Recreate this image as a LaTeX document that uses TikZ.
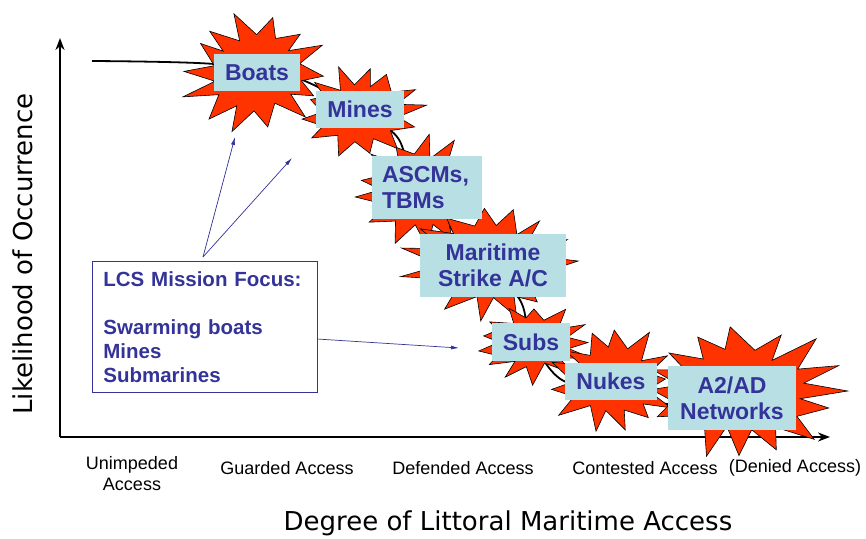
\documentclass[tikz,border=0pt]{standalone}
\usepackage{fontspec}
\setmainfont{Liberation Sans}
\newfontfamily\axisfont{DejaVu Sans}
\usetikzlibrary{arrows.meta}
\definecolor{burstred}{RGB}{255,51,0}
\definecolor{boxblue}{RGB}{184,223,227}
\definecolor{navy}{RGB}{51,51,153}
\tikzset{
  burststyle/.style={fill=burstred, draw=black, line width=0.6pt, line join=miter},
  lbl/.style={fill=boxblue, text=navy, font=\bfseries\fontsize{23}{26}\selectfont,
    inner sep=0pt, align=center},
  axisline/.style={line width=2.6pt, -{Stealth[length=12pt,width=9pt]}},
  pointer/.style={navy, line width=0.7pt, -{Latex[length=8pt,width=4pt]}},
  tick/.style={font=\fontsize{18}{21}\selectfont, align=center},
  title/.style={font=\axisfont\fontsize{26}{30}\selectfont}
}
% #1 name, #2 cx, #3 cy, #4 rx, #5 ry, #6 seed, #7 points
\newcommand\burstshape[7]{%
  \pgfmathsetseed{#6}%
  \coordinate (#1) at (#2,#3);
  \draw[burststyle] ({#2+0.56*#4*cos(-180/#7)},{#3+0.56*#5*sin(-180/#7)})
    \foreach \k [evaluate=\k as \ao using (\k+0.25*rand)*360/#7,
                 evaluate=\k as \ai using (\k+0.5+0.12*rand)*360/#7,
                 evaluate=\k as \ro using 0.76+0.24*rnd,
                 evaluate=\k as \ri using 0.50+0.12*rnd] in {0,...,\numexpr#7-2\relax}
    { -- ({#2+\ro*#4*cos(\ao)},{#3+\ro*#5*sin(\ao)}) -- ({#2+\ri*#4*cos(\ai)},{#3+\ri*#5*sin(\ai)}) }
    -- ({#2+0.92*#4*cos(360-360/#7)},{#3+0.92*#5*sin(360-360/#7)}) -- cycle;
}
\begin{document}
\begin{tikzpicture}[x=1pt,y=-1pt]
\useasboundingbox (0,0) rectangle (866,538);
% axes
\coordinate (O) at (60,437);
\coordinate (ytop) at (60,38);
\coordinate (xend) at (830,437);
\draw[axisline] (O) -- (ytop);
\draw[axisline] (O) -- (xend);
% curve
\draw[line width=1.8pt] plot[smooth, tension=0.5] coordinates {(92,61) (214,64) (300,79) (390,130) (410,165) (460,240) (518,297) (530,335) (562,380) (640,400) (720,410)};
% bursts
\burstshape{bBoats}{256}{72}{80}{67}{11}{14}
\burstshape{bMines}{360}{111}{68}{50}{23}{13}
\burstshape{bAscm}{418}{190}{68}{61}{37}{13}
\burstshape{bMar}{490}{264}{92}{65}{41}{15}
\burstshape{bSubs}{532}{343}{65}{43}{53}{13}
\burstshape{bNukes}{612}{381}{68}{59}{67}{13}
\burstshape{bA2}{740}{391}{116}{72}{79}{16}
% labels
\node[lbl, minimum width=86pt, minimum height=37pt] (lBoats) at (257,72.5) {Boats};
\node[lbl, minimum width=88pt, minimum height=37pt] (lMines) at (360,109.5) {Mines};
\node[lbl, minimum width=110pt, minimum height=63pt, text width=90pt, align=left] (lAscm) at (427,187.5) {ASCMs,\\TBMs};
\node[lbl, minimum width=146pt, minimum height=63pt] (lMar) at (493,265.5) {Maritime\\Strike A/C};
\node[lbl, minimum width=78pt, minimum height=38pt] (lSubs) at (531,342) {Subs};
\node[lbl, minimum width=92pt, minimum height=37pt] (lNukes) at (611,381.5) {Nukes};
\node[lbl, minimum width=128pt, minimum height=64pt] (lA2) at (732,398) {A2/AD\\Networks};
% LCS box
\node[draw=navy, line width=0.8pt, text=navy, minimum width=225pt, minimum height=131pt,
  text width=203pt, inner xsep=11pt, align=left, anchor=north west,
  font=\bfseries\fontsize{20.5}{24}\selectfont] (lcs) at (92,261)
  {LCS Mission Focus:\\[24pt]Swarming boats\\Mines\\Submarines};
\coordinate (lcsTop) at (203,257);
\coordinate (lcsRight) at (317,339);
\coordinate (tBoats) at (235,137);
\coordinate (tMines) at (292,158);
\coordinate (tSubs) at (459,348);
\draw[pointer] (lcsTop) -- (tBoats);
\draw[pointer] (lcsTop) -- (tMines);
\draw[pointer] (lcsRight) -- (tSubs);
% tick labels
\node[tick] (t1) at (132,473.5) {Unimpeded\\Access};
\node[tick] (t2) at (287,468) {Guarded Access};
\node[tick] (t3) at (463,468) {Defended Access};
\node[tick] (t4) at (645,468) {Contested Access};
\node[tick] (t5) at (795,468) {(Denied Access)};
% titles
\node[title] (xt) at (508,523) {Degree of Littoral Maritime Access};
\node[title, rotate=90] (yt) at (23,254) {Likelihood of Occurrence};
\end{tikzpicture}
\end{document}
